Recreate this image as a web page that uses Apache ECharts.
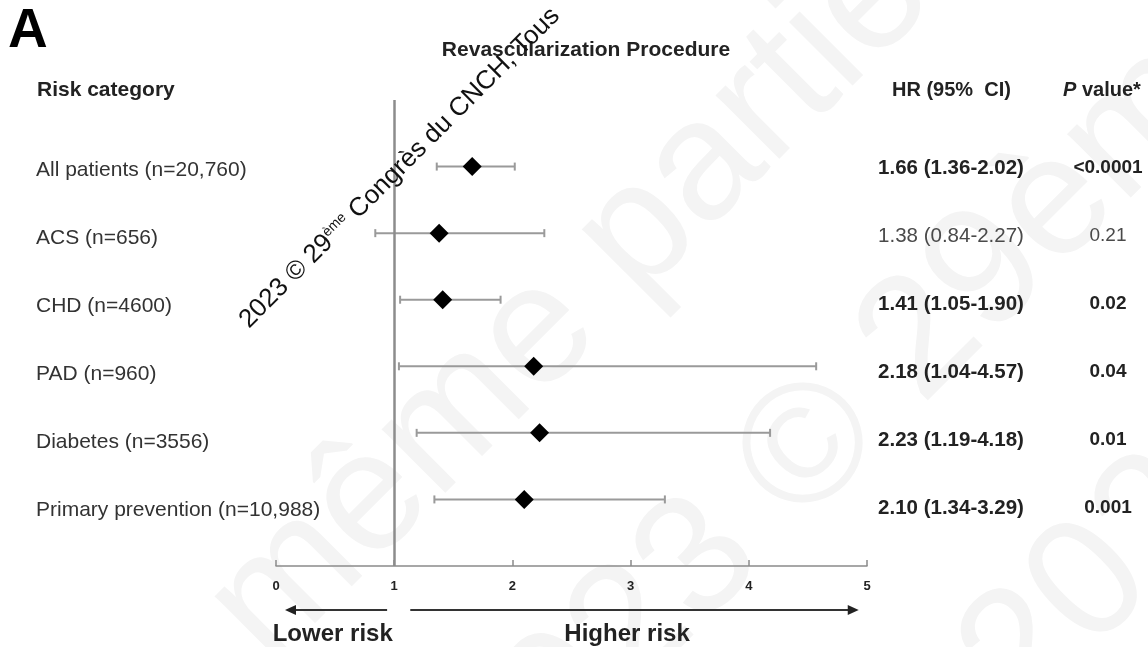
<!DOCTYPE html>
<html>
<head>
<meta charset="utf-8">
<title>Revascularization Procedure – forest plot</title>
<script src="https://cdn.jsdelivr.net/npm/echarts@6/dist/echarts.min.js"></script>
<style>
  html, body { margin: 0; padding: 0; background: #fff; }
  #chart { width: 1148px; height: 647px; }
</style>
</head>
<body>
<div id="chart"></div>
<script>
// ---- data ----
const categories = [
  'All patients (n=20,760)',
  'ACS (n=656)',
  'CHD (n=4600)',
  'PAD (n=960)',
  'Diabetes (n=3556)',
  'Primary prevention (n=10,988)'
];
const hazardRatio = [1.66, 1.38, 1.41, 2.18, 2.23, 2.10];
const ciLow       = [1.36, 0.84, 1.05, 1.04, 1.19, 1.34];
const ciHigh      = [2.02, 2.27, 1.90, 4.57, 4.18, 3.29];
const pValues     = ['<0.0001', '0.21', '0.02', '0.04', '0.01', '0.001'];
const significant = [true, false, true, true, true, true];
const xTicks      = [0, 1, 2, 3, 4, 5];

const FONT = '"Liberation Sans", Arial, sans-serif';
const rows = categories.map((_, i) => i + 1);
const hrText = hazardRatio.map((v, i) =>
  v.toFixed(2) + ' (' + ciLow[i].toFixed(2) + '-' + ciHigh[i].toFixed(2) + ')');

const chart = echarts.init(document.getElementById('chart'), null, { renderer: 'canvas' });

const faint = '#f4f4f4';
const option = {
  animation: false,
  backgroundColor: '#ffffff',
  grid: { left: 276, right: 281, top: 100, bottom: 81 },
  xAxis: {
    type: 'value',
    min: xTicks[0],
    max: xTicks[xTicks.length - 1],
    interval: 1,
    splitLine: { show: false },
    axisLine: { show: true, onZero: false, lineStyle: { color: '#8a8a8a', width: 1.5 } },
    axisTick: { show: true, inside: true, length: 6, lineStyle: { color: '#8a8a8a', width: 1.5 } },
    axisLabel: { margin: 14, fontSize: 13, fontWeight: 'bold', color: '#222', fontFamily: FONT }
  },
  yAxis: [
    // rows of the plotted estimates
    { type: 'value', min: 0, max: 7, inverse: true, show: false },
    // rows of the text table
    { type: 'value', min: 0, max: 6.85, inverse: true, show: false }
  ],
  graphic: [
    // faint background notice
    { type: 'text', x: 297, y: 695, rotation: Math.PI / 4, z: -10, style: {
      text: 'même partielle', font: '170px ' + FONT, fill: faint, align: 'left', verticalAlign: 'bottom'
    } },
    { type: 'text', x: 526, y: 856, rotation: Math.PI / 4, z: -10, style: {
      text: '2023 © 29ème Congrès', font: '170px ' + FONT, fill: faint, align: 'left', verticalAlign: 'bottom'
    } },
    { type: 'text', x: 1051, y: 746, rotation: Math.PI / 4, z: -10, style: {
      text: '2023 © 29ème', font: '170px ' + FONT, fill: faint, align: 'left', verticalAlign: 'bottom'
    } },
    { type: 'text', left: 8, top: 4, style: { text: 'A', font: 'bold 55px ' + FONT, fill: '#000' } },
    { type: 'text', x: 586, y: 50, style: { text: 'Revascularization Procedure', font: 'bold 21px ' + FONT,
      fill: '#222', align: 'center', verticalAlign: 'middle' } },
    { type: 'text', x: 37, y: 90, style: { text: 'Risk category', font: 'bold 21px ' + FONT,
      fill: '#222', align: 'left', verticalAlign: 'middle' } },
    { type: 'text', x: 892, y: 90, style: { text: 'HR (95%  CI)', font: 'bold 20px ' + FONT,
      fill: '#222', align: 'left', verticalAlign: 'middle' } },
    { type: 'text', x: 1063, y: 90, style: {
      text: '{p|P} value*', font: 'bold 20px ' + FONT, fill: '#222',
      align: 'left', verticalAlign: 'middle',
      rich: { p: { fontStyle: 'italic', fontWeight: 'bold', fontSize: 20, fontFamily: FONT, fill: '#222' } }
    } },
    // copyright notice running diagonally across the plot
    { type: 'text', x: 253, y: 333, rotation: Math.PI / 4, z: 100, style: {
      text: '2023 © 29{sup|ème} Congrès du CNCH, Tous',
      font: '26px ' + FONT, fill: '#111', align: 'left', verticalAlign: 'bottom',
      rich: { sup: { fontSize: 14, fontFamily: FONT, fill: '#111', verticalAlign: 'top' } }
    } }
  ],
  series: [
    {
      // confidence intervals with end caps
      type: 'custom',
      name: '95% CI',
      yAxisIndex: 0,
      z: 3,
      data: rows.map((r, i) => [ciLow[i], ciHigh[i], r]),
      renderItem: function (params, api) {
        const a = api.coord([api.value(0), api.value(2)]);
        const b = api.coord([api.value(1), api.value(2)]);
        const st = { stroke: '#9a9a9a', lineWidth: 2 };
        const cap = 4;
        return {
          type: 'group',
          children: [
            { type: 'line', shape: { x1: a[0], y1: a[1], x2: b[0], y2: b[1] }, style: st },
            { type: 'line', shape: { x1: a[0], y1: a[1] - cap, x2: a[0], y2: a[1] + cap }, style: st },
            { type: 'line', shape: { x1: b[0], y1: b[1] - cap, x2: b[0], y2: b[1] + cap }, style: st }
          ]
        };
      }
    },
    {
      type: 'scatter',
      name: 'HR',
      yAxisIndex: 0,
      z: 5,
      symbol: 'diamond',
      symbolSize: 19,
      itemStyle: { color: '#000', opacity: 1 },
      data: rows.map((r, i) => [hazardRatio[i], r]),
      markLine: {
        silent: true,
        symbol: ['none', 'none'],
        label: { show: false },
        lineStyle: { color: '#8c8c8c', width: 2.5, type: 'solid' },
        data: [{ xAxis: 1 }]
      }
    },
    {
      // table: category labels, HR (95% CI) and P values
      type: 'custom',
      name: 'table',
      yAxisIndex: 1,
      z: 4,
      data: rows.map(r => [0, r]),
      renderItem: function (params, api) {
        const i = params.dataIndex;
        const y = api.coord([0, api.value(1)])[1];
        const bold = significant[i];
        const valColor = bold ? '#222' : '#4a4a4a';
        return {
          type: 'group',
          children: [
            { type: 'text', x: 36, y: y + 2, style: { text: categories[i], font: '21px ' + FONT,
              fill: '#333', align: 'left', verticalAlign: 'middle' } },
            { type: 'text', x: 951, y: y, style: { text: hrText[i],
              font: (bold ? 'bold ' : '') + '20.5px ' + FONT, fill: valColor, align: 'center', verticalAlign: 'middle' } },
            { type: 'text', x: 1108, y: y, style: { text: pValues[i],
              font: (bold ? 'bold ' : '') + '19px ' + FONT, fill: valColor, align: 'center', verticalAlign: 'middle' } }
          ]
        };
      }
    },
    {
      // direction arrows under the axis
      type: 'custom',
      name: 'direction',
      yAxisIndex: 0,
      z: 4,
      data: [[0, 7]],
      renderItem: function (params, api) {
        const base = api.coord([0, 7])[1];
        const ya = base + 44;
        const yt = base + 68;
        const px = v => api.coord([v, 7])[0];
        const st = { stroke: '#333', lineWidth: 2 };
        const head = (tip, dir) => ({
          type: 'polygon',
          shape: { points: [[tip, ya], [tip - dir * 11, ya - 5], [tip - dir * 11, ya + 5]] },
          style: { fill: '#222' }
        });
        const lx0 = px(0.94), lx1 = px(0.076);
        const rx0 = px(1.136), rx1 = px(4.93);
        return {
          type: 'group',
          children: [
            { type: 'line', shape: { x1: lx0, y1: ya, x2: lx1 + 8, y2: ya }, style: st },
            head(lx1, -1),
            { type: 'line', shape: { x1: rx0, y1: ya, x2: rx1 - 8, y2: ya }, style: st },
            head(rx1, 1),
            { type: 'text', x: px(0.48), y: yt, style: { text: 'Lower risk', font: 'bold 24px ' + FONT,
              fill: '#222', align: 'center', verticalAlign: 'middle' } },
            { type: 'text', x: px(2.97), y: yt, style: { text: 'Higher risk', font: 'bold 24px ' + FONT,
              fill: '#222', align: 'center', verticalAlign: 'middle' } }
          ]
        };
      }
    }
  ]
};

chart.setOption(option);
</script>
</body>
</html>
